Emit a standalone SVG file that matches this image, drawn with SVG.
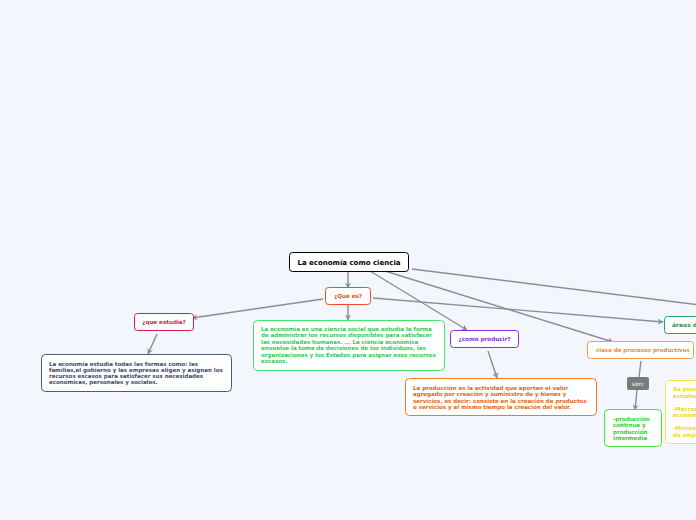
<svg xmlns="http://www.w3.org/2000/svg" width="696" height="520" viewBox="0 0 696 520">
<style>
text{font-family:"DejaVu Sans","Verdana",sans-serif;font-weight:bold}
.c{fill:none;stroke:#8a8c98;stroke-width:1.4;marker-end:url(#ah)}
.n{fill:#fff;stroke-width:1}
.lbl{font-size:5.6px;text-anchor:middle}
.body{font-size:5.5px}
</style>
<defs>
<marker id="ah" viewBox="0 0 10 10" refX="9" refY="5" markerWidth="6" markerHeight="6" orient="auto" markerUnits="userSpaceOnUse">
<path d="M0,0 L10,5 L0,10 L3,5 Z" fill="#8a8c98"/>
</marker>
</defs>
<rect width="696" height="520" fill="#f3f6fd"/>
<g id="connectors">
<path class="c" d="M348,271 L348,288"/>
<path class="c" d="M370,271 L467,330"/>
<path class="c" d="M385,271 L613,342"/>
<path d="M412,269 L700,305" fill="none" stroke="#8a8c98" stroke-width="1.4"/>
<path class="c" d="M323,299 L192,318"/>
<path class="c" d="M348,304 L348,320"/>
<path class="c" d="M373,298 L663,322"/>
<path class="c" d="M157,334 L148,354"/>
<path class="c" d="M488,351 L497,378"/>
<path d="M641,361 L639,377" fill="none" stroke="#8a8c98" stroke-width="1.4"/>
<path class="c" d="M637,390 L635,410"/>
</g>
<g id="main">
<rect x="289.5" y="252.5" width="119" height="19" rx="3" fill="#fff" stroke="#000" stroke-width="1"/>
<text x="349" y="264.5" font-size="7" text-anchor="middle" fill="#000">La economía como ciencia</text>
</g>
<g id="que-es">
<rect class="n" x="325.5" y="287.5" width="45" height="17" rx="3" stroke="#e8502a"/>
<text class="lbl" x="348" y="298" fill="#e8502a">¿Que es?</text>
</g>
<g id="que-estudia">
<rect class="n" x="134.5" y="313.5" width="59" height="17" rx="3" stroke="#d81b50"/>
<text class="lbl" x="164" y="324" fill="#d81b50">¿que estudia?</text>
</g>
<g id="estudia-texto">
<rect class="n" x="41.5" y="354.5" width="190" height="37" rx="4" stroke="#4d5b78"/>
<text class="body" fill="#3d4a68"><tspan x="49" y="366">La economía estudia todas las formas como: las</tspan><tspan x="49" y="372">familias,el gobierno y las empresas eligen y asignan los</tspan><tspan x="49" y="378">recursos escasos para satisfacer sus necesidades</tspan><tspan x="49" y="384">económicas,  personales y sociales.</tspan></text>
</g>
<g id="definicion">
<rect class="n" x="253.5" y="320.5" width="191" height="50" rx="4" stroke="#3ee86a"/>
<text class="body" fill="#2ecc55"><tspan x="261" y="330.5">La economía es una ciencia social que estudia la forma</tspan><tspan x="261" y="337">de administrar los recursos disponibles para satisfacer</tspan><tspan x="261" y="343.5">las necesidades humanas. ... La ciencia económica</tspan><tspan x="261" y="350">envuelve la toma de decisiones de los individuos, las</tspan><tspan x="261" y="356.5">organizaciones y los Estados para asignar esos recursos</tspan><tspan x="261" y="363">escasos.</tspan></text>
</g>
<g id="como-producir">
<rect class="n" x="450.5" y="330.5" width="68" height="17" rx="3" stroke="#8b2be2"/>
<text class="lbl" x="484.5" y="341" fill="#8b2be2">¿como producir?</text>
</g>
<g id="produccion">
<rect class="n" x="405.5" y="378.5" width="191" height="37" rx="4" stroke="#f07820"/>
<text class="body" fill="#e8650e"><tspan x="413" y="389.5">La producción es la actividad que aportan el valor</tspan><tspan x="413" y="396">agregado por creación y suministro de y bienes y</tspan><tspan x="413" y="402.5">servicios,  es decir: consiste en la creación de productos</tspan><tspan x="413" y="409">o servicios y al mismo tiempo la creación del valor.</tspan></text>
</g>
<g id="clase-procesos">
<rect class="n" x="587.5" y="341.5" width="106" height="17" rx="3" stroke="#f5a04a"/>
<text x="596" y="352" font-size="5.5" fill="#f08a30">clase de procesos productivos</text>
</g>
<g id="son">
<rect x="627" y="377" width="22" height="13" rx="2" fill="#7a7a7a"/>
<text x="638" y="386" font-size="6" text-anchor="middle" fill="#fff" style="font-weight:normal">son:</text>
</g>
<g id="continua">
<rect class="n" x="604.5" y="409.5" width="57" height="37" rx="4" stroke="#3ee83e"/>
<text class="body" fill="#2ccf2c"><tspan x="613" y="420.5">-producción</tspan><tspan x="613" y="427">continua y</tspan><tspan x="613" y="433.5">producción</tspan><tspan x="613" y="440">intermedia</tspan></text>
</g>
<g id="areas">
<rect class="n" x="664.5" y="316.5" width="60" height="17" rx="3" stroke="#1aa860"/>
<text x="672" y="327" font-size="6" fill="#1a9a50">áreas de estudio</text>
</g>
<g id="se-puede">
<rect class="n" x="665.5" y="380.5" width="80" height="63" rx="4" stroke="#f5e642"/>
<text class="body" fill="#f0d820"><tspan x="673" y="391">Se pueden dividir</tspan><tspan x="673" y="397.5">estudios en:</tspan><tspan x="673" y="410.5">-Macroeconomía</tspan><tspan x="673" y="417">economía global</tspan><tspan x="673" y="430">-Microeconomía</tspan><tspan x="673" y="436.5">de empresas</tspan></text>
</g>
</svg>
